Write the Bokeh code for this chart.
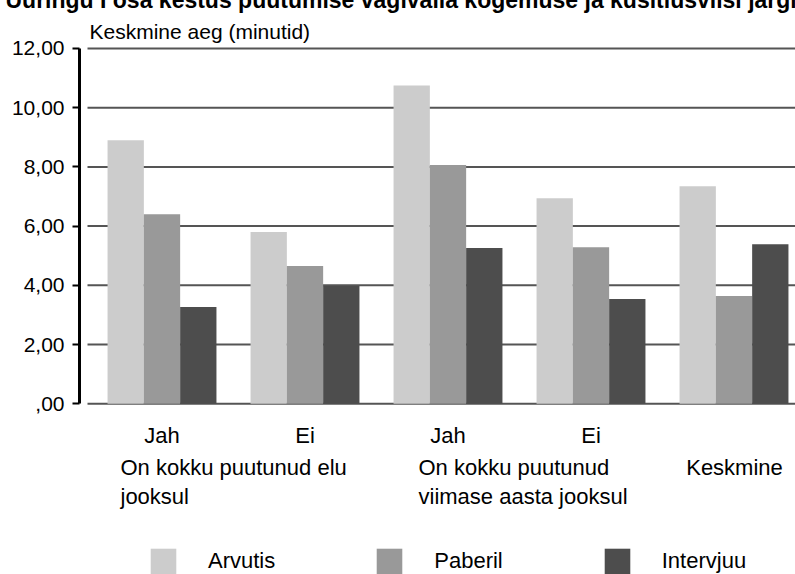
from bokeh.plotting import figure
from bokeh.models import Range1d, FixedTicker, Title, Label, Legend, LegendItem, ColumnDataSource
from bokeh.core.properties import value
from bokeh.embed import file_html
from bokeh.resources import INLINE

# ---------------- data ----------------
groups = ["Jah", "Ei", "Jah", "Ei", ""]
series = ["Arvutis", "Paberil", "Intervjuu"]
arvutis = [8.90, 5.80, 10.75, 6.94, 7.35]
paberil = [6.40, 4.65, 8.06, 5.29, 3.64]
intervjuu = [3.27, 3.98, 5.26, 3.54, 5.39]
y_ticks = [0, 2, 4, 6, 8, 10, 12]
y_tick_labels = [",00", "2,00", "4,00", "6,00", "8,00", "10,00", "12,00"]
group_titles = ["On kokku puutunud elu\njooksul",
                "On kokku puutunud\nviimase aasta jooksul",
                "Keskmine"]
title_text = "Uuringu I osa kestus puutumise vägivalla kogemuse ja küsitlusviisi järgi"
y_title = "Keskmine aeg (minutid)"

# ---------------- layout / style ----------------
colors = ["#cccccc", "#999999", "#4d4d4d"]
FONT = "Liberation Sans"
SHIFT = 16                        # canvas is pulled up so the title is cut like the source
W, H = 795, 574 + SHIFT
FL = 79                           # frame left (px)
FT_IMG = 11                       # frame top in picture px
X0PX, GROUP_PX = 90, 143          # picture px of x=0, px per group
Y0PX, UNIT_PX = 403, 29.667       # picture px of y=0, px per unit

def px_x(px):
    return (px - X0PX) / GROUP_PX

def px_y(py):
    return (Y0PX - py) / UNIT_PX

x_start, x_end = px_x(FL), px_x(W)
y_start, y_end = px_y(574), px_y(FT_IMG)

p = figure(width=W, height=H, x_range=Range1d(x_start, x_end),
           y_range=Range1d(y_start, y_end), x_axis_location=None,
           output_backend="svg", toolbar_location=None,
           min_border_left=FL, min_border_right=0,
           min_border_top=FT_IMG + SHIFT, min_border_bottom=0)
p.styles = {"margin-top": f"-{SHIFT}px"}
p.outline_line_color = None
p.grid.visible = False
p.title.visible = False

# gridlines (start slightly right of the axis)
p.segment(x0=[px_x(87)] * len(y_ticks), x1=[x_end] * len(y_ticks),
          y0=y_ticks, y1=y_ticks, line_color="#555555", line_width=2)

# bars
bw = 36.3 / GROUP_PX
renderers = []
for j, (vals, col) in enumerate(zip([arvutis, paberil, intervjuu], colors)):
    xs = [i + 0.5 + (j - 1) * bw for i in range(len(groups))]
    r = p.vbar(x=xs, top=vals, width=bw, bottom=0, fill_color=col, line_color=None)
    renderers.append(r)

# y axis
ya = p.yaxis[0]
ya.ticker = FixedTicker(ticks=y_ticks)
ya.major_label_overrides = {t: l for t, l in zip(y_ticks, y_tick_labels)}
ya.bounds = (0, 12)
ya.axis_line_width = 3
ya.axis_line_color = "black"
ya.major_tick_out = 7
ya.major_tick_in = 0
ya.major_tick_line_width = 2
ya.major_tick_line_color = "black"
ya.minor_tick_line_color = None
ya.major_label_text_font = FONT
ya.major_label_text_font_size = "21px"
ya.major_label_text_color = "black"
ya.major_label_standoff = 8

# category labels under the bars
cat_src = ColumnDataSource(dict(
    x=[i + 0.5 for i in range(len(groups))],
    y=[px_y(435)] * len(groups),
    text=groups))
p.text(x="x", y="y", text="text", source=cat_src, text_align="center",
       text_baseline="alphabetic", text_font=value(FONT), text_font_size="22px",
       text_color="black")

# group titles
for txt, xpx, align in zip(group_titles, [120, 418, 734], ["left", "left", "center"]):
    p.add_layout(Label(x=px_x(xpx), y=px_y(454), text=txt, text_align=align,
                       text_baseline="top", text_font=FONT, text_font_size="22px",
                       text_line_height=1.19, text_color="black"))

# axis title
p.add_layout(Label(x=px_x(89), y=px_y(30), text=y_title, text_align="left",
                   text_baseline="alphabetic", text_font=FONT,
                   text_font_size="21px", text_color="black"))

# chart title (top part cut off, as in the source)
p.add_layout(Title(text=title_text, align="left", offset=5 - FL, standoff=0,
                   text_font=FONT, text_font_size="23px", text_font_style="bold",
                   text_color="black"), "above")

# legend
legend = Legend(items=[LegendItem(label=s, renderers=[r]) for s, r in zip(series, renderers)],
                orientation="horizontal", location=(147 - FL, 574 - 577),
                glyph_width=32, glyph_height=32, label_standoff=29, spacing=98,
                padding=0, margin=0, border_line_color=None,
                background_fill_alpha=0, label_text_font=FONT,
                label_text_font_size="22px", label_text_color="black")
p.add_layout(legend)

open("out.html", "w").write(file_html(p, INLINE))
